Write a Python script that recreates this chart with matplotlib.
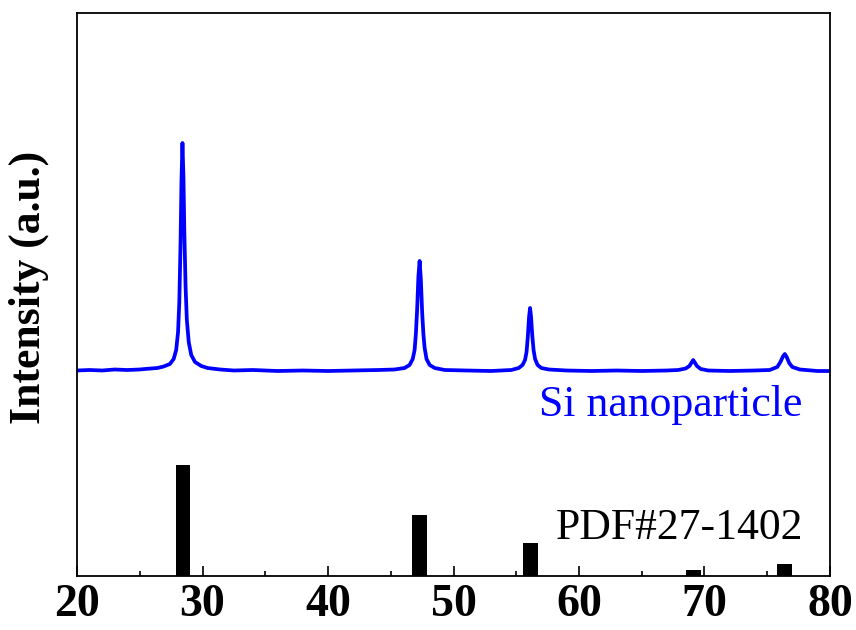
import matplotlib
matplotlib.use("Agg")
import matplotlib.pyplot as plt
from matplotlib.ticker import MultipleLocator

plt.rcParams['font.family'] = ['Liberation Serif', 'DejaVu Serif']
plt.rcParams['mathtext.fontset'] = 'stix'

# XRD pattern of Si nanoparticles (intensity, arbitrary units)
two_theta = [20.0, 21.0, 22.0, 23.0, 24.0, 25.0, 25.4, 26.4, 26.9, 27.4,
             27.7, 27.9, 28.05, 28.15, 28.25, 28.32, 28.4, 28.48, 28.55, 28.65,
             28.75, 28.9, 29.1, 29.4, 29.9, 30.4, 31.4, 32.5, 34.0, 36.0,
             38.0, 40.0, 42.0, 44.0, 45.3, 46.1, 46.5, 46.75, 46.9, 47.0,
             47.1, 47.2, 47.3, 47.4, 47.5, 47.6, 47.7, 47.85, 48.1, 48.5,
             49.3, 51.0, 53.0, 54.6, 55.2, 55.5, 55.7, 55.82, 55.92, 56.02,
             56.1, 56.18, 56.28, 56.38, 56.5, 56.7, 57.0, 57.6, 59.0, 61.0,
             63.0, 65.0, 67.0, 67.9, 68.5, 68.8, 68.95, 69.1, 69.25, 69.4,
             69.7, 70.3, 72.0, 74.0, 75.2, 75.8, 76.05, 76.25, 76.4, 76.55,
             76.75, 77.0, 77.6, 79.0, 80.0]
intensity = [1.5, 2.0, 1.5, 2.5, 2.0, 2.5, 3.0, 4.0, 5.5, 8.0,
             13, 22, 40, 70, 130, 190, 229, 195, 140, 85,
             52, 30, 17, 10, 6, 4, 2.5, 1.5, 2.0, 1.0,
             1.5, 1.0, 1.5, 2.0, 2.5, 4.0, 7, 13, 22, 38,
             62, 95, 111, 92, 60, 38, 24, 13, 7, 4,
             2, 1.5, 1.0, 2.0, 4.0, 7, 12, 20, 35, 55,
             64, 55, 36, 22, 13, 7, 4, 2.5, 1.5, 1.0,
             1.5, 1.0, 1.5, 2.0, 3.5, 6, 9, 12, 9, 6,
             3, 1.5, 1.0, 1.5, 2.0, 5, 10, 15.5, 18, 15,
             9, 5, 2.5, 1.0, 1.0]

# Reference pattern PDF#27-1402 (relative intensity)
pdf_pos = [28.44, 47.30, 56.12, 69.13, 76.38]
pdf_int = [100, 55, 30, 5.5, 10.5]

x_ticks = [20, 30, 40, 50, 60, 70, 80]

fig = plt.figure(figsize=(8.56, 6.30), dpi=100)
ax = fig.add_axes([0.090, 0.0857, 0.8796, 0.8937])

offset = 204
pdf_scale = 1.11
ax.plot(two_theta, [v + offset for v in intensity], color='#0000ff', lw=2.7,
        solid_joinstyle='round')
ax.bar(pdf_pos, [v * pdf_scale for v in pdf_int], width=1.15, color='black',
       align='center')

ax.set_xlim(20, 80)
ax.set_ylim(0, 563)
ax.set_xticks(x_ticks)
ax.set_xticklabels([str(t) for t in x_ticks])
ax.xaxis.set_minor_locator(MultipleLocator(5))
ax.set_yticks([])
ax.tick_params(axis='x', which='major', direction='in', length=7, width=1.2,
               labelsize=33, pad=6)
ax.tick_params(axis='x', which='minor', direction='in', length=3.6, width=1.2)
for lab in ax.get_xticklabels():
    lab.set_fontweight('bold')
for s in ax.spines.values():
    s.set_linewidth(1.3)
    s.set_color('black')

ax.set_ylabel('Intensity (a.u.)', fontsize=31.5, fontweight='bold')
ax.yaxis.set_label_coords(-0.037, 0.512)

ax.text(0.964, 0.284, 'Si nanoparticle', transform=ax.transAxes, ha='right',
        va='baseline', fontsize=31.5, color='#0000ff')
ax.text(0.964, 0.0657, 'PDF#27-1402', transform=ax.transAxes, ha='right',
        va='baseline', fontsize=31.5, color='black')

fig.savefig('out.png', dpi=100)
